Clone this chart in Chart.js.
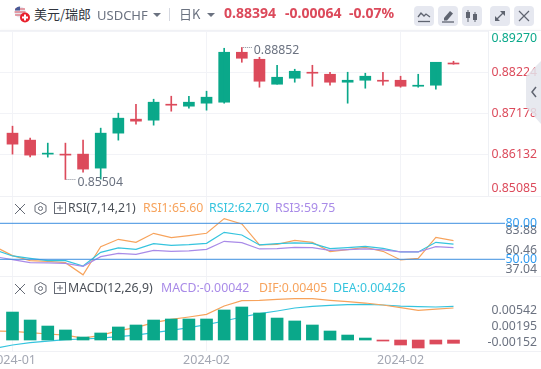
<!DOCTYPE html>
<html><head><meta charset="utf-8">
<script src="https://cdn.jsdelivr.net/npm/chart.js@4"></script>
<style>
html,body{margin:0;padding:0;background:#fff;overflow:hidden;width:541px;height:369px;font-family:"Noto Sans","Noto Sans CJK SC",sans-serif}
.c{position:absolute;left:0}
.t{position:absolute;white-space:nowrap;line-height:16px;height:16px;font-size:12.3px}
.l{position:absolute;left:0;width:541px;height:1px;background:#f0f1f5}
.b{position:absolute;top:6px;width:20px;height:20px;border-radius:4px;background:#e6e8f0}
svg{position:absolute;overflow:visible}
</style></head><body>
<canvas id="main" class="c" style="top:31px" width="541" height="165"></canvas>
<canvas id="rsi" class="c" style="top:196px" width="541" height="80"></canvas>
<canvas id="macd" class="c" style="top:276px" width="541" height="93"></canvas>

<div class="l" style="top:30px;box-shadow:0 -1px 2px rgba(0,0,0,.03)"></div>
<div class="l" style="top:196px"></div>
<div class="l" style="top:276px"></div>
<div class="l" style="top:351px"></div>

<svg style="left:13px;top:6px" width="20" height="18">
 <circle cx="7" cy="6" r="5.5" fill="#e8e6ee"/>
 <path d="M2 3h10M1.6 6h11M2 9h10" stroke="#d9505c" stroke-width="1.2"/>
 <path d="M2 3.5a5.5 5.5 0 0 1 5-3v4H2z" fill="#4a5a96"/>
 <circle cx="12" cy="11.5" r="5" fill="#e8202c"/>
 <path d="M12 8.5v6M9 11.5h6" stroke="#fff" stroke-width="2"/>
</svg>
<span class="t" style="left:34px;top:5px;font-size:13px;line-height:18px;height:18px;color:#30343c;font-family:'Noto Sans CJK SC'">美元/瑞郎</span>
<span class="t" style="left:97px;top:7px;font-size:13px;color:#6b7280">USDCHF</span>
<svg style="left:153px;top:13px" width="8" height="5"><path d="M0 0h8L4 4z" fill="#6b7280"/></svg>
<div style="position:absolute;left:169px;top:8px;width:1px;height:13px;background:#d5d8e0"></div>
<span class="t" style="left:179px;top:6px;font-size:13px;color:#6b7280;font-family:'Noto Sans CJK SC'">日K</span>
<svg style="left:207px;top:13px" width="8" height="5"><path d="M0 0h8L4 4z" fill="#6b7280"/></svg>
<span class="t" style="left:224px;top:5px;font-size:14px;font-weight:700;color:#dc4a5b">0.88394</span>
<span class="t" style="left:285px;top:5px;font-size:14px;font-weight:700;color:#dc4a5b">-0.00064</span>
<span class="t" style="left:349px;top:5px;font-size:14px;font-weight:700;color:#dc4a5b">-0.07%</span>

<div class="b" style="left:414px"><svg style="left:3px;top:3px" width="14" height="14"><path d="M1 8l3-4 3 3 2-2 4 3" fill="none" stroke="#5f6470" stroke-width="1.3"/><path d="M1 12.5h12" stroke="#5f6470" stroke-width="1.3"/></svg></div>
<div class="b" style="left:438px"><svg style="left:3px;top:3px" width="14" height="14"><path d="M3 9l6-7 3 2.500-6 7H3z" fill="#5f6470"/><path d="M1 13h12" stroke="#5f6470" stroke-width="1.3"/></svg></div>
<div class="b" style="left:462px"><svg style="left:3px;top:3px" width="14" height="14"><path d="M3 1v12M10 3v10" stroke="#5f6470"/><rect x="1" y="3" width="4" height="6" fill="#5f6470"/><rect x="8" y="5" width="4" height="6" fill="#5f6470"/></svg></div>
<div class="b" style="left:490px"><svg style="left:4px;top:4px" width="12" height="12"><path d="M2 10l8-8" stroke="#5f6470" stroke-width="1.200"/><path d="M6 1h5v5zM1 6v5h5z" fill="#5f6470"/></svg></div>
<div class="b" style="left:514px"><svg style="left:4px;top:4px" width="12" height="12"><path d="M1 1l10 10M11 1L1 11" stroke="#5f6470" stroke-width="1.200"/></svg></div>

<svg style="left:526px;top:61px" width="15" height="64"><path d="M15 0L0 15V46L15 63z" fill="#e3e5ec" fill-opacity=".85"/><path d="M10 26l-4 5 4 5" fill="none" stroke="#5f6470" stroke-width="1.500"/></svg>

<svg style="left:14px;top:203px" width="12" height="12"><path d="M1 1l10 10M11 1L1 11" stroke="#666b76" stroke-width="1"/></svg>
<svg style="left:34px;top:202px" width="13" height="13"><path d="M6.500 .5l5.500 3v6l-5.500 3-5.500-3v-6z" fill="none" stroke="#666b76"/><circle cx="6.500" cy="6.500" r="2" fill="none" stroke="#666b76"/></svg>
<svg style="left:54px;top:202px" width="12" height="12"><rect x=".5" y=".5" width="11" height="11" fill="none" stroke="#666b76"/><path d="M3 6h6M6 3v6" stroke="#666b76"/></svg>
<span class="t" style="left:68px;top:200px;color:#4b5058">RSI(7,14,21)</span>
<span class="t" style="left:143px;top:200px;color:#f7a35c">RSI1:65.60</span>
<span class="t" style="left:209px;top:200px;color:#35c4de">RSI2:62.70</span>
<span class="t" style="left:275px;top:200px;color:#a98be8">RSI3:59.75</span>

<svg style="left:14px;top:283px" width="12" height="12"><path d="M1 1l10 10M11 1L1 11" stroke="#666b76" stroke-width="1"/></svg>
<svg style="left:34px;top:282px" width="13" height="13"><path d="M6.500 .5l5.500 3v6l-5.500 3-5.500-3v-6z" fill="none" stroke="#666b76"/><circle cx="6.500" cy="6.500" r="2" fill="none" stroke="#666b76"/></svg>
<svg style="left:54px;top:282px" width="12" height="12"><rect x=".5" y=".5" width="11" height="11" fill="none" stroke="#666b76"/><path d="M3 6h6M6 3v6" stroke="#666b76"/></svg>
<span class="t" style="left:68px;top:280px;color:#4b5058">MACD(12,26,9)</span>
<span class="t" style="left:161px;top:280px;color:#a98be8">MACD:-0.00042</span>
<span class="t" style="left:259px;top:280px;color:#f7a35c">DIF:0.00405</span>
<span class="t" style="left:333px;top:280px;color:#35c4de">DEA:0.00426</span>

<script>
const xTickIndex = [0, 11, 22];
const xTickLabels = ['2024-01', '2024-02', '2024-02'];

const opens  = [.86679,.86502,.86147,.86147,.86147,.85792,.86679,.87034,.87008,.87413,.87363,.87439,.87464,.88731,.88553,.87920,.88072,.88224,.88173,.87971,.88021,.88021,.88021,.87869,.87895,.88458];
const closes = [.86400,.86122,.86172,.86122,.85767,.86679,.87059,.86983,.87464,.87388,.87464,.87591,.88731,.88579,.87996,.88097,.88249,.88199,.87971,.88021,.88123,.87996,.87869,.87895,.88477,.88433];
const highs  = [.86856,.86552,.86426,.86426,.86502,.86806,.87186,.87413,.87540,.87616,.87616,.87743,.88832,.88852,.88604,.88401,.88300,.88401,.88224,.88224,.88199,.88224,.88123,.88173,.88477,.88503];
const lows   = [.86147,.86079,.86071,.85504,.85691,.85514,.86502,.86907,.86882,.87236,.87312,.87262,.87439,.88477,.87844,.87920,.87971,.87869,.87895,.87439,.87819,.87895,.87844,.87844,.87793,.88427];
const markIndex = [13, 3];
const markValue = [.88852, .85504];

const priceTicks = [.89270,.88224,.87178,.86132,.85085];
const priceLabels = [['','0.89270'],'0.88224','0.87178','0.86132',['0.85085','']];
const priceColors = ['#0aa88a','#dc4a5b','#dc4a5b','#dc4a5b','#dc4a5b'];

/* first entry of each line belongs to the session just left of the visible window */
const rsi1 = [60.56,53.06,48.89,48.33,47.22,37.04,60.56,66.67,64.17,71.67,68.06,69.72,71.67,83.88,79.44,61.94,62.50,65.83,64.17,56.39,58.06,60.00,56.67,49.44,50.83,68.33,65.60];
const rsi2 = [57.78,52.78,50.83,48.89,48.89,44.44,55.83,59.44,58.33,63.06,61.67,62.22,63.33,72.50,70.28,61.94,63.06,63.61,63.33,58.89,59.72,60.83,59.17,56.11,56.11,64.17,62.70];
const rsi3 = [52.22,49.72,47.22,46.94,46.67,44.17,52.22,55.00,54.17,57.50,56.67,56.94,58.33,65.00,63.89,58.61,58.89,60.00,59.72,57.50,58.06,58.61,57.78,56.11,56.11,60.56,59.75];
const rsiBands = [80, 50];
const rsiTickAt = [73.6,80,57.75,50,41.9];
const rsiTickLabels = ['83.88','80.00','60.46','50.00','37.04'];
const rsiTickColors = ['#6b7280','#2f9bf0','#6b7280','#2f9bf0','#6b7280'];

const macdHist = [.00354,.00253,.00177,.00127,.00038,.00089,.00165,.00190,.00253,.00266,.00266,.00266,.00380,.00418,.00342,.00278,.00241,.00190,.00114,.00063,.00025,-.00013,-.00063,-.00101,-.00051,-.00042];
const dif = [.00114,.00110,.00093,.00076,.00063,.00025,.00059,.00118,.00156,.00219,.00262,.00291,.00325,.00430,.00498,.00502,.00515,.00523,.00523,.00502,.00485,.00468,.00443,.00409,.00376,.00392,.00405];
const dea = [-.00105,-.00063,-.00034,-.00013,.00004,.00013,.00025,.00042,.00063,.00093,.00122,.00156,.00194,.00241,.00291,.00333,.00367,.00405,.00426,.00439,.00447,.00451,.00443,.00430,.00422,.00418,.00426];
const macdTickAt = [.00371,.00169,-.00034];
const macdTickLabels = ['0.00542','0.00195','-0.00152'];

const GREEN='#0aa88a', RED='#dc4a5b', GRID='#f2f3f7';
const SPACING=17.64, X0=12.5, FONT='"Noto Sans"';
const xMin=-X0/SPACING;
const xMaxFor=w=>xMin+w/SPACING;

function xScale(plotW,showLabels){
  return {type:'linear',offset:false,min:xMin,max:xMaxFor(plotW),
    grid:{color:GRID,lineWidth:1,offset:false,drawTicks:false},border:{display:false},
    afterBuildTicks:s=>{s.ticks=xTickIndex.map(v=>({value:v}));},
    afterFit:s=>{s.paddingLeft=0;s.paddingRight=0;if(!showLabels)s.height=0;else s.height=18;},
    ticks:{display:showLabels,autoSkip:false,maxRotation:0,minRotation:0,padding:2,color:'#a3a7b3',
      font:{family:FONT,size:12.5},callback:(v,i)=>xTickLabels[i]}};
}
function yScale(min,max,at,labels,colors,axisW,grid,border){
  return {type:'linear',position:'right',min,max,
    grid:{display:grid,color:GRID,drawTicks:false},
    border:{display:border,color:'#eef0f4'},
    afterBuildTicks:s=>{s.ticks=at.map(v=>({value:v}));},
    afterFit:s=>{s.width=axisW;s.paddingTop=0;s.paddingBottom=0;},
    ticks:{autoSkip:false,crossAlign:'far',padding:2,font:{family:FONT,size:12.3,lineHeight:1.2},
      color:c=>Array.isArray(colors)?colors[c.index]:colors,callback:(v,i)=>labels[i]}};
}
const base={responsive:false,animation:false,events:[],plugins:{legend:{display:false},tooltip:{enabled:false}}};
const line=(d,c)=>({type:'line',data:d.map((y,i)=>({x:i-1,y})),borderColor:c,borderWidth:1.2,pointRadius:0,tension:0,fill:false});

const extremeMarks={id:'extremeMarks',afterDatasetsDraw(ch){
  const g=ch.ctx;g.save();
  g.font='12.3px "Noto Sans"';g.fillStyle='#6b7280';g.textBaseline='middle';
  markIndex.forEach((idx,k)=>{
    const x=ch.scales.x.getPixelForValue(idx),y=Math.round(ch.scales.y.getPixelForValue(markValue[k]));
    g.strokeStyle='#8a8f9a';g.lineWidth=1;g.setLineDash([1,1]);
    g.beginPath();g.moveTo(x+1,y+.5);g.lineTo(x+11,y+.5);g.stroke();
    g.fillText(markValue[k].toFixed(5),x+12,y+3);
  });
  g.restore();
}};

new Chart(document.getElementById('main'),{type:'bar',plugins:[extremeMarks],
  data:{datasets:[
    {data:opens.map((o,i)=>({x:i,y:[lows[i],highs[i]]})),barThickness:1,grouped:false,
     backgroundColor:opens.map((o,i)=>closes[i]>=o?GREEN:RED)},
    {data:opens.map((o,i)=>({x:i,y:[o,closes[i]]})),barThickness:11,grouped:false,minBarLength:1,
     backgroundColor:opens.map((o,i)=>closes[i]>=o?GREEN:RED)}
  ]},
  options:{...base,layout:{padding:{left:0,right:4,top:0,bottom:0}},
    scales:{x:xScale(488,false),
      y:yScale(priceTicks[4],priceTicks[0],priceTicks,priceLabels,priceColors,49,true,true)}}});

new Chart(document.getElementById('rsi'),{type:'line',
  data:{datasets:[
    ...rsiBands.map(b=>({data:[{x:xMin,y:b},{x:xMaxFor(505),y:b}],borderColor:'#3d8fe0',borderWidth:1,pointRadius:0})),
    line(rsi3,'#a98be8'),line(rsi2,'#35c4de'),line(rsi1,'#f7a35c')
  ]},
  options:{...base,layout:{padding:{left:0,right:4,top:0,bottom:0}},
    scales:{x:xScale(505,false),
      y:yScale(36.08,102.75,rsiTickAt,rsiTickLabels,rsiTickColors,32,false,false)}}});

new Chart(document.getElementById('macd'),{type:'bar',
  data:{datasets:[
    {type:'bar',data:macdHist.map((y,i)=>({x:i,y})),barThickness:12,
     backgroundColor:macdHist.map(v=>v>=0?GREEN:RED)},
    line(dif,'#f7a35c'),line(dea,'#35c4de')
  ]},
  options:{...base,layout:{padding:{left:0,right:4,top:0,bottom:0}},
    scales:{x:xScale(487,true),
      y:yScale(-.00139,.0081,macdTickAt,macdTickLabels,'#6b7280',50,false,false)}}});
</script>
</body></html>
